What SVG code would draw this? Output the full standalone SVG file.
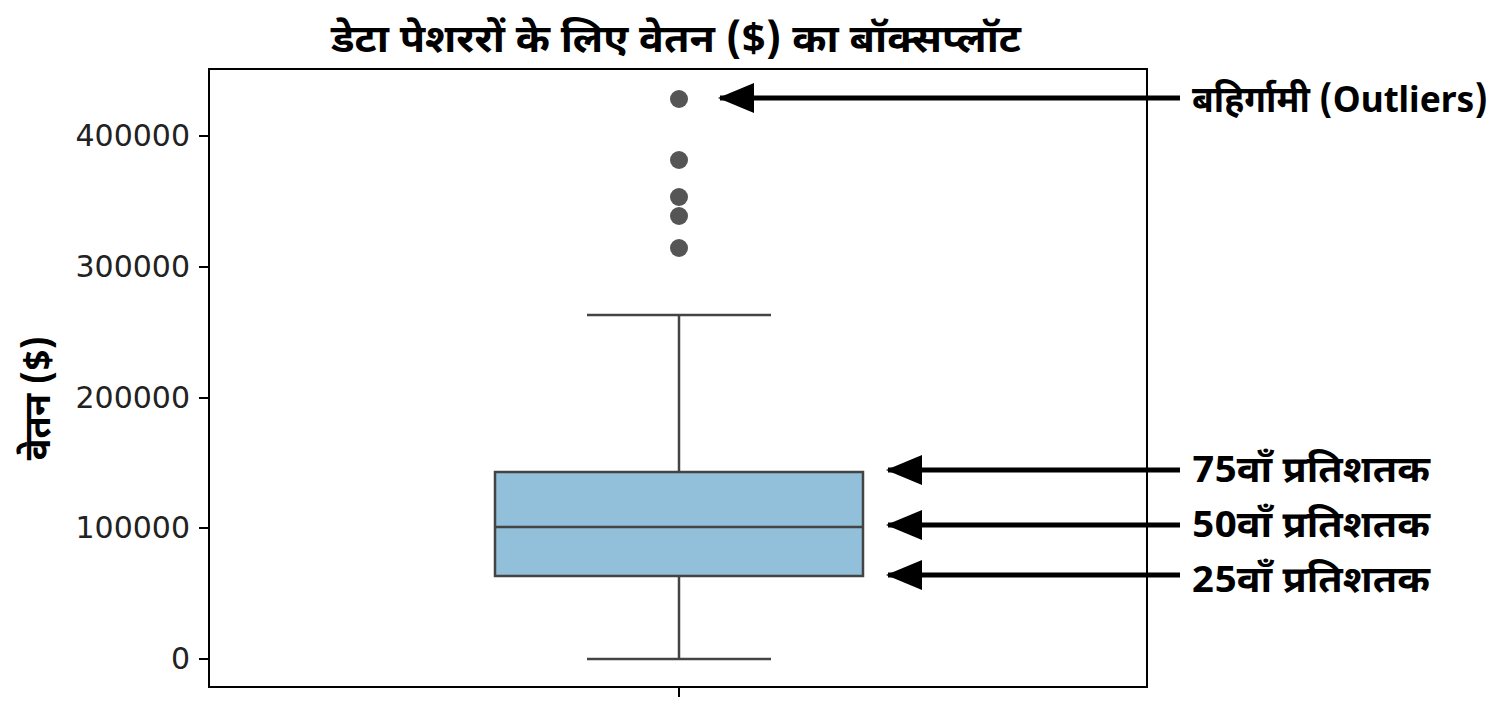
<svg xmlns="http://www.w3.org/2000/svg" width="1504" height="704" viewBox="0 0 1504 704">
<defs>
<style>
.t{font-family:"Noto Sans Devanagari","Noto Sans","DejaVu Sans",sans-serif;fill:#000;font-weight:bold}
.tick{font-family:"DejaVu Sans","Noto Sans",sans-serif;font-size:30px;fill:#222}
.ln{stroke:#444;stroke-width:2.5;fill:none}
.ar{stroke:#000;stroke-width:5;fill:none}
</style>
<marker id="ah" viewBox="0 0 36 30" refX="34" refY="15" markerWidth="36" markerHeight="30" markerUnits="userSpaceOnUse" orient="auto">
<path d="M0,0 L36,15 L0,30 Z" fill="#000"/>
</marker>
</defs>
<rect width="1504" height="704" fill="#fff"/>
<text class="t" x="676" y="52" text-anchor="middle" style="font-size:39px" textLength="690" lengthAdjust="spacingAndGlyphs">डेटा पेशररों के लिए वेतन ($) का बॉक्सप्लॉट</text>
<g id="axes">
<rect x="209" y="69" width="938" height="618" fill="none" stroke="#000" stroke-width="2"/>
<g stroke="#000" stroke-width="2">
<line x1="199" y1="659" x2="209" y2="659"/><line x1="199" y1="528" x2="209" y2="528"/><line x1="199" y1="398" x2="209" y2="398"/><line x1="199" y1="267" x2="209" y2="267"/><line x1="199" y1="136" x2="209" y2="136"/><line x1="679" y1="687" x2="679" y2="697"/>
</g>
<g class="tick" text-anchor="end">
<text x="190" y="669">0</text><text x="190" y="538">100000</text><text x="190" y="408">200000</text><text x="190" y="277">300000</text><text x="190" y="146">400000</text>
</g>
<text class="t" transform="translate(50,398) rotate(-90)" text-anchor="middle" style="font-size:36px">वेतन ($)</text>
</g>
<g id="boxplot">
<line class="ln" x1="679" y1="315" x2="679" y2="472"/>
<line class="ln" x1="679" y1="576" x2="679" y2="659"/>
<line class="ln" x1="587" y1="315" x2="771" y2="315"/>
<line class="ln" x1="587" y1="659" x2="771" y2="659"/>
<rect x="495" y="472" width="368" height="104" fill="#92bfd9" stroke="#444" stroke-width="2.5"/>
<line class="ln" x1="495" y1="527" x2="863" y2="527"/>
<g fill="#555"><circle cx="679" cy="99" r="9"/><circle cx="679" cy="160" r="9"/><circle cx="679" cy="197" r="9"/><circle cx="679" cy="216" r="9"/><circle cx="679" cy="248" r="9"/></g>
</g>
<g id="connectors">
<line class="ar" x1="1180" y1="98" x2="720" y2="98" marker-end="url(#ah)"/>
<line class="ar" x1="1180" y1="470" x2="888" y2="470" marker-end="url(#ah)"/>
<line class="ar" x1="1180" y1="525" x2="888" y2="525" marker-end="url(#ah)"/>
<line class="ar" x1="1180" y1="575" x2="888" y2="575" marker-end="url(#ah)"/>
</g>
<g id="labels" class="t" style="font-size:36px">
<text x="1192" y="112" textLength="296" lengthAdjust="spacingAndGlyphs">बहिर्गामी (Outliers)</text>
<text x="1192" y="482" textLength="238" lengthAdjust="spacingAndGlyphs">75वाँ प्रतिशतक</text>
<text x="1192" y="537" textLength="238" lengthAdjust="spacingAndGlyphs">50वाँ प्रतिशतक</text>
<text x="1192" y="592" textLength="238" lengthAdjust="spacingAndGlyphs">25वाँ प्रतिशतक</text>
</g>
</svg>
